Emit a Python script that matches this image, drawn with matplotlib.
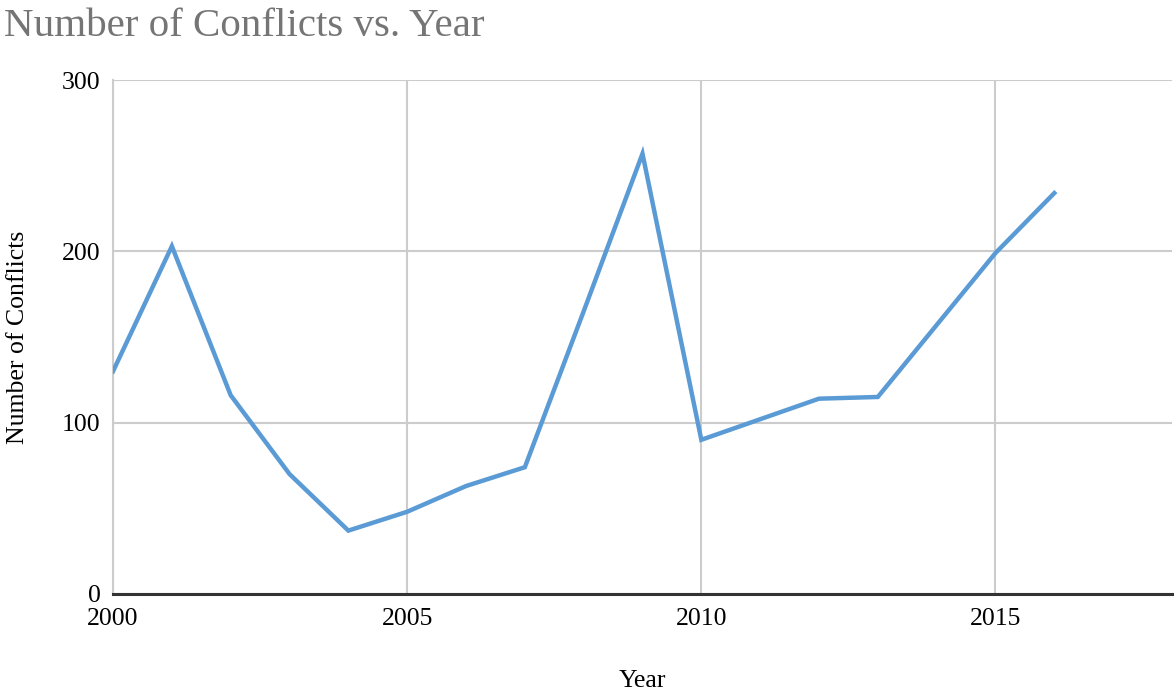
import matplotlib.pyplot as plt

# --------------------------------------------------
# Data
# --------------------------------------------------

years = [2000, 2001, 2002, 2003, 2004, 2005, 2006, 2007, 2008,
         2009, 2010, 2011, 2012, 2013, 2014, 2015, 2016]
conflicts = [130, 203, 116, 70, 37, 48, 63, 74, 165,
             257, 90, 102, 114, 115, 157, 199, 234]

x_ticks = [2000, 2005, 2010, 2015]
y_ticks = [0, 100, 200, 300]

# --------------------------------------------------
# Plot
# --------------------------------------------------

plt.rcParams["font.family"] = ["Liberation Serif", "DejaVu Serif"]

fig = plt.figure(figsize=(11.75, 6.94), dpi=100)
ax = fig.add_axes([0.0962, 0.1441, 0.9012, 0.7406])

ax.plot(years, conflicts, color="#5B9BD5", linewidth=3.2, solid_joinstyle="miter", zorder=3)

ax.set_xlim(2000, 2018)
ax.set_ylim(0, 300)
ax.set_xticks(x_ticks)
ax.set_yticks(y_ticks)
ax.tick_params(axis="both", length=0, labelsize=18.5, colors="black")
ax.tick_params(axis="x", pad=10)
ax.tick_params(axis="y", pad=9)

ax.grid(True, color="#CCCCCC", linewidth=1.5, zorder=0)

for side in ["top", "right"]:
    ax.spines[side].set_visible(False)
ax.spines["left"].set_color("#CCCCCC")
ax.spines["left"].set_linewidth(1.5)
ax.spines["bottom"].set_color("#333333")
ax.spines["bottom"].set_linewidth(2.2)
ax.spines["bottom"].set_zorder(4)

ax.set_xlabel("Year", fontsize=18.5, labelpad=29)
ax.set_ylabel("Number of Conflicts", fontsize=18.5, labelpad=24)

fig.text(0.003, 1 - 36 / 694, "Number of Conflicts vs. Year",
         fontsize=29.5, color="#757575", ha="left", va="baseline")

plt.savefig("out.png", dpi=100)
plt.close()
